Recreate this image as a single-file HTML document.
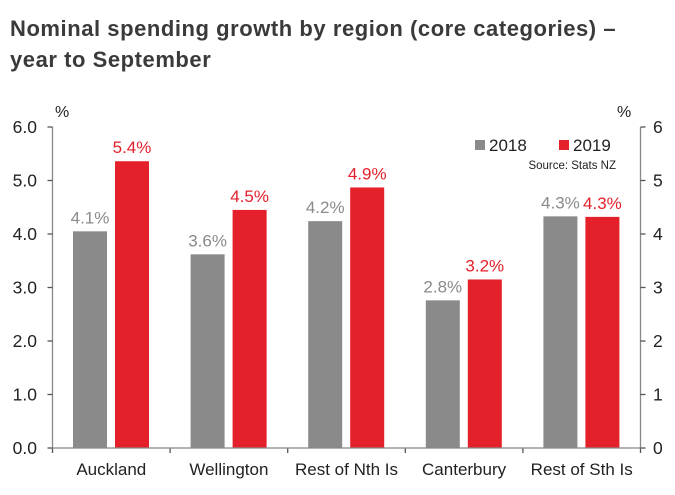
<!DOCTYPE html>
<html><head><meta charset="utf-8"><style>
body{margin:0;background:#fff;width:675px;height:495px;overflow:hidden;font-family:"Liberation Sans",sans-serif}
#t{position:absolute;left:10px;top:13px;font-size:22px;font-weight:bold;color:#3a3a3a;line-height:31px;letter-spacing:0.55px}
svg{position:absolute;left:0;top:0}
</style></head><body>
<div id="t">Nominal spending growth by region (core categories) –<br>year to September</div>
<svg id="c" width="675" height="495" font-family="Liberation Sans, sans-serif"></svg>
<script>
const categories=["Auckland","Wellington","Rest of Nth Is","Canterbury","Rest of Sth Is"];
const v2018=[4.05,3.62,4.24,2.76,4.33];
const v2019=[5.36,4.45,4.87,3.15,4.32];
const l2018=["4.1%","3.6%","4.2%","2.8%","4.3%"];
const l2019=["5.4%","4.5%","4.9%","3.2%","4.3%"];
const leftTicks=["0.0","1.0","2.0","3.0","4.0","5.0","6.0"];
const rightTicks=["0","1","2","3","4","5","6"];
const svg=document.getElementById('c');const NS="http://www.w3.org/2000/svg";
const X0=52.5,X1=640.5,Y0=448,Y6=127,max=6;
const y=v=>Y0-(Y0-Y6)*v/max;
const cw=(X1-X0)/categories.length;
const cx=i=>X0+cw*i;
function mk(tag,a,txt){const e=document.createElementNS(NS,tag);for(const k in a)e.setAttribute(k,a[k]);if(txt!=null)e.textContent=txt;svg.appendChild(e);return e;}
let e=mk('line',{x1:X0,y1:Y6,x2:X0,y2:Y0,stroke:'#888','stroke-width':1.3});

e=mk('line',{x1:X1,y1:Y6,x2:X1,y2:Y0,stroke:'#888','stroke-width':1.3});

leftTicks.forEach((t,i)=>{const yy=y(i);
 mk('line',{x1:X0-5,y1:yy,x2:X0,y2:yy,stroke:'#555','stroke-width':1.3});
 e=mk('text',{x:37,y:yy+6,'text-anchor':'end','font-size':17.5,fill:'#222'},t);
 
});
rightTicks.forEach((t,i)=>{const yy=y(i);
 mk('line',{x1:X1,y1:yy,x2:X1+5,y2:yy,stroke:'#555','stroke-width':1.3});
 e=mk('text',{x:653,y:yy+6,'font-size':17.5,fill:'#222'},t);
 
});
e=mk('text',{x:55,y:117,'font-size':16,fill:'#222'},'%');
e=mk('text',{x:617,y:117,'font-size':16,fill:'#222'},'%');
categories.forEach((c,i)=>{
 const b=cx(i);
 const g=mk('rect',{x:b+20.5,y:y(v2018[i]),width:34,height:Y0-y(v2018[i]),fill:'#8a8a8a'});
 
 const r=mk('rect',{x:b+62.5,y:y(v2019[i]),width:34,height:Y0-y(v2019[i]),fill:'#e4202a'});
 
 e=mk('text',{x:b+37.5,y:y(v2018[i])-8,'text-anchor':'middle','font-size':17,fill:'#8a8a8a'},l2018[i]);
 
 e=mk('text',{x:b+79.5,y:y(v2019[i])-8,'text-anchor':'middle','font-size':17,fill:'#e4202a'},l2019[i]);
 
 e=mk('text',{x:b+cw/2,y:475,'text-anchor':'middle','font-size':17,fill:'#222'},c);
 
});
for(let i=0;i<=categories.length;i++)mk('line',{x1:cx(i),y1:Y0,x2:cx(i),y2:Y0+5,stroke:'#555','stroke-width':1.3});
e=mk('line',{x1:X0,y1:Y0,x2:X1,y2:Y0,stroke:'#888','stroke-width':1.3});

e=mk('rect',{x:475,y:140,width:10,height:10,fill:'#8a8a8a'});
e=mk('text',{x:489,y:151,'font-size':17,fill:'#222'},'2018');
e=mk('rect',{x:559,y:140,width:10,height:10,fill:'#e4202a'});
e=mk('text',{x:573,y:151,'font-size':17,fill:'#222'},'2019');
e=mk('text',{x:616,y:169,'text-anchor':'end','font-size':11.5,fill:'#222'},'Source: Stats NZ');
</script>
</body></html>
